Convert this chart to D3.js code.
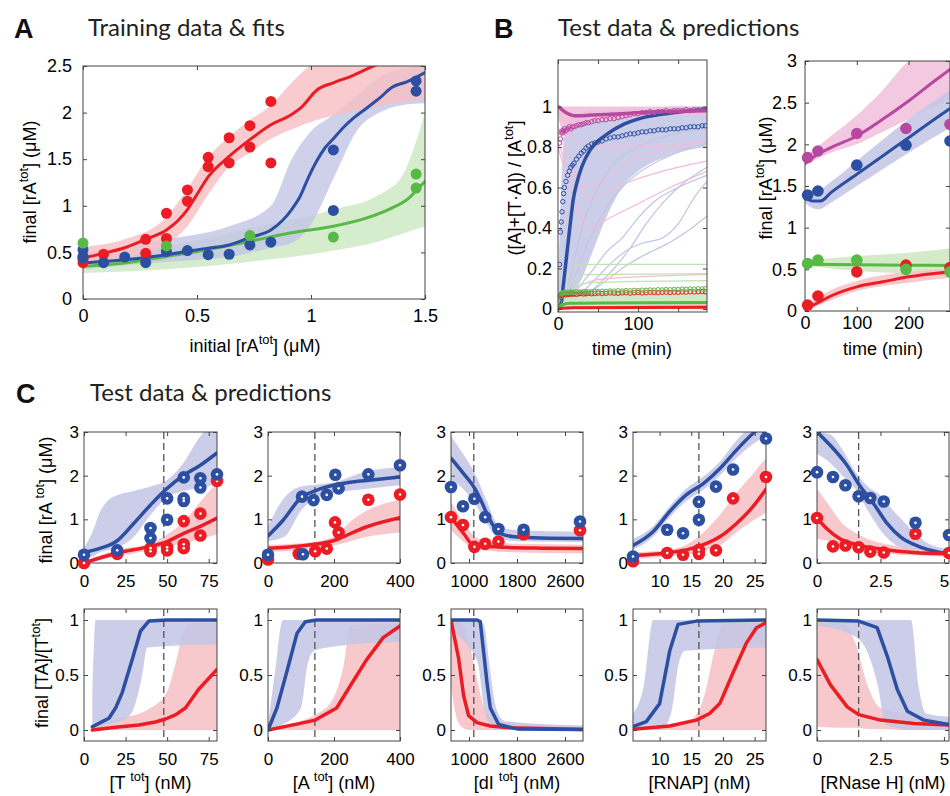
<!DOCTYPE html>
<html><head><meta charset="utf-8">
<script src="https://cdn.jsdelivr.net/npm/d3@7"></script>
<style>body{margin:0;background:#fff}</style>
</head><body><svg id="c" width="950" height="796"></svg>
<script>
// ---------------- DATA ----------------
// Panel A
const aPtsRed = [[0,0.39],[0,0.43],[0.09,0.48],[0.275,0.64],[0.275,0.49],[0.366,0.92],[0.366,0.65],[0.458,1.17],[0.458,1.05],[0.549,1.52],[0.549,1.42],[0.641,1.73],[0.641,1.46],[0.732,1.86],[0.732,1.63],[0.824,2.12],[0.824,1.46]];
const aPtsBlue = [[0,0.53],[0,0.46],[0,0.44],[0.09,0.39],[0.183,0.45],[0.275,0.39],[0.366,0.51],[0.458,0.52],[0.549,0.475],[0.641,0.48],[0.732,0.58],[0.824,0.61],[1.098,1.6],[1.098,0.95],[1.461,2.34],[1.461,2.23]];
const aPtsGreen = [[0,0.6],[0.366,0.57],[0.732,0.68],[1.098,0.665],[1.461,1.34],[1.461,1.19]];
const aFitRed = [[0,0.44],[0.091,0.49],[0.183,0.55],[0.274,0.64],[0.366,0.74],[0.458,0.96],[0.512,1.17],[0.549,1.31],[0.641,1.53],[0.732,1.71],[0.824,1.87],[0.915,1.98],[0.959,2.06],[1.025,2.24],[1.098,2.32],[1.186,2.40],[1.274,2.5],[1.35,2.57]];
const aFitBlue = [[0,0.386],[0.183,0.42],[0.366,0.475],[0.549,0.546],[0.641,0.58],[0.732,0.66],[0.824,0.74],[0.878,0.85],[0.915,0.96],[0.952,1.10],[0.988,1.30],[1.025,1.48],[1.061,1.62],[1.098,1.72],[1.142,1.84],[1.186,1.94],[1.245,2.05],[1.303,2.16],[1.354,2.27],[1.42,2.33],[1.5,2.43]];
const aFitGreen = [[0,0.35],[0.183,0.386],[0.366,0.457],[0.549,0.53],[0.732,0.62],[0.915,0.71],[1.098,0.78],[1.245,0.87],[1.354,0.975],[1.428,1.08],[1.479,1.21],[1.5,1.26]];
const aBandRed = [[0,0.38,0.56],[0.183,0.44,0.64],[0.366,0.58,0.88],[0.458,0.78,1.18],[0.549,1.12,1.52],[0.641,1.42,1.74],[0.732,1.57,1.92],[0.824,1.72,2.08],[0.915,1.82,2.32],[1.025,1.92,2.55],[1.2,2.02,2.65],[1.5,2.15,2.65]];
const aBandBlue = [[0,0.32,0.5],[0.366,0.4,0.64],[0.641,0.45,0.78],[0.824,0.55,1.0],[0.915,0.6,1.5],[1.0,0.8,1.8],[1.1,1.3,1.98],[1.2,1.8,2.18],[1.3,2.0,2.38],[1.4,2.08,2.47],[1.5,2.1,2.52]];
const aBandGreen = [[0,0.28,0.42],[0.366,0.32,0.56],[0.732,0.4,0.76],[1.1,0.52,0.96],[1.3,0.62,1.12],[1.4,0.7,1.32],[1.5,0.78,2.0]];

// Panel B left (time courses)
const bTimes = [2,3,4,5,6,7,8,10,12,14,16,18,20,23,26,29,32,35,38,42,46,50,55,60,65,70,75,80,85,90,95,100,105,110,115,120,125,130,135,140,145,150,155,160,165,170,175,180,184];
const bDataBlue = [0.22,0.38,0.43,0.48,0.53,0.57,0.6,0.63,0.66,0.68,0.7,0.71,0.72,0.74,0.755,0.77,0.78,0.795,0.805,0.815,0.82,0.825,0.83,0.84,0.845,0.85,0.85,0.855,0.86,0.865,0.865,0.87,0.875,0.875,0.88,0.88,0.885,0.885,0.885,0.89,0.89,0.89,0.895,0.895,0.9,0.9,0.9,0.905,0.905];
const bDataMag = [0.82,0.84,0.87,0.88,0.87,0.88,0.89,0.88,0.89,0.9,0.89,0.9,0.9,0.905,0.91,0.91,0.915,0.92,0.92,0.925,0.93,0.93,0.935,0.935,0.94,0.94,0.945,0.95,0.955,0.96,0.965,0.965,0.97,0.97,0.975,0.97,0.975,0.975,0.98,0.975,0.98,0.98,0.98,0.985,0.98,0.985,0.985,0.985,0.985];
const bDataRed = [0.06,0.065,0.07,0.068,0.072,0.07,0.074,0.07,0.073,0.072,0.075,0.073,0.074,0.072,0.075,0.076,0.074,0.075,0.077,0.075,0.076,0.078,0.076,0.077,0.079,0.078,0.077,0.079,0.08,0.078,0.08,0.081,0.079,0.08,0.082,0.081,0.08,0.082,0.083,0.081,0.083,0.082,0.084,0.083,0.085,0.084,0.085,0.086,0.085];
const bDataGreen = [0.03,0.06,0.075,0.08,0.078,0.08,0.082,0.08,0.083,0.081,0.084,0.082,0.083,0.085,0.084,0.083,0.086,0.085,0.084,0.086,0.087,0.086,0.088,0.087,0.089,0.088,0.09,0.089,0.091,0.09,0.092,0.091,0.093,0.092,0.094,0.093,0.095,0.094,0.096,0.095,0.097,0.096,0.098,0.097,0.099,0.098,0.1,0.099,0.1];
const bFitMag = [[0,1.0],[5,0.985],[10,0.97],[15,0.96],[20,0.955],[30,0.955],[50,0.96],[80,0.965],[100,0.97],[140,0.975],[186,0.98]];
const bFitBlue = [[0,0],[4,0.03],[7,0.13],[11,0.27],[15,0.41],[19,0.54],[24,0.63],[30,0.705],[40,0.785],[50,0.83],[62,0.866],[83,0.914],[104,0.943],[146,0.97],[186,0.985]];
const bFitRed = [[0,0],[5,0.004],[20,0.006],[186,0.008]];
const bFitGreen = [[0,0],[5,0.02],[15,0.028],[50,0.03],[186,0.032]];
const bBandBlue = [[0,0,0.1],[5,0.01,0.7],[10,0.03,0.9],[20,0.08,0.96],[30,0.15,0.97],[40,0.25,0.98],[60,0.45,0.98],[80,0.6,0.99],[100,0.68,0.99],[140,0.76,1.0],[186,0.8,1.0]];
const bBandMag = [[0,0.95,1.0],[10,0.85,1.0],[20,0.9,1.0],[50,0.93,1.0],[186,0.96,1.0]];
const bBandGreen = [[0,0,0.05],[10,0.01,0.07],[186,0.01,0.08]];
const bBandRed = [[0,0,0.01],[186,0,0.025]];
const bThinBlue = [
  [[8,0],[20,0.02],[40,0.08],[60,0.14],[80,0.2],[100,0.25],[120,0.29],[140,0.33],[160,0.38],[186,0.46]],
  [[10,0],[30,0.08],[50,0.16],[70,0.24],[90,0.3],[110,0.33],[130,0.35],[150,0.42],[170,0.55],[186,0.63]],
  [[10,0],[25,0.1],[45,0.2],[60,0.28],[80,0.35],[100,0.45],[120,0.53],[150,0.6],[186,0.66]],
  [[5,0],[20,0.15],[40,0.35],[60,0.5],[80,0.6],[100,0.67],[130,0.74],[160,0.79],[186,0.82]],
  [[5,0],[15,0.15],[30,0.4],[50,0.6],[70,0.72],[100,0.8],[140,0.86],[186,0.89]],
  [[12,0],[30,0.05],[50,0.12],[70,0.2],[90,0.3],[110,0.42],[130,0.52],[150,0.6],[186,0.7]]
];
const bThinMag = [
  [[0,0.82],[10,0.72],[25,0.6],[40,0.55],[60,0.58],[90,0.63],[130,0.68],[186,0.73]],
  [[0,0.8],[15,0.6],[30,0.45],[42,0.4],[60,0.44],[100,0.52],[140,0.6],[186,0.68]],
  [[0,1.0],[10,0.9],[20,0.85],[50,0.8],[100,0.8],[186,0.83]],
  [[0,0.9],[15,0.75],[30,0.6],[50,0.62],[100,0.75],[186,0.81]],
  [[0,0.02],[30,0.12],[60,0.15],[186,0.17]]
];
const bThinGreen = [
  [[0,0.03],[10,0.15],[25,0.22],[186,0.22]],
  [[0,0.03],[15,0.12],[30,0.17],[186,0.175]],
  [[0,0.02],[20,0.1],[40,0.13],[186,0.14]]
];

// Panel B right
const brTimes = [5,25,100,195,280];
const brPtsMag = [1.84,1.92,2.13,2.19,2.24];
const brPtsBlue = [1.39,1.44,1.75,1.99,2.04];
const brPtsGreen = [0.57,0.61,0.61,0.5,0.47];
const brPtsRed = [0.07,0.18,0.47,0.55,0.52];
const brFitMag = [[0,1.77],[25,1.88],[50,1.96],[100,2.1],[150,2.3],[200,2.52],[250,2.76],[280,2.9]];
const brFitBlue = [[0,1.36],[15,1.32],[30,1.32],[50,1.42],[100,1.64],[150,1.86],[200,2.08],[250,2.3],[280,2.43]];
const brFitGreen = [[0,0.56],[100,0.555],[200,0.55],[280,0.545]];
const brFitRed = [[0,0.02],[25,0.1],[50,0.18],[100,0.29],[150,0.35],[200,0.41],[250,0.45],[280,0.47]];
const brBandMag = [[0,1.75,1.85],[50,1.9,2.1],[100,2.0,2.35],[150,2.15,2.65],[200,2.3,3.0],[280,2.55,3.2]];
const brBandBlue = [[0,1.3,1.45],[25,1.22,1.45],[50,1.3,1.55],[100,1.5,1.8],[200,1.9,2.3],[280,2.2,2.65]];
const brBandGreen = [[0,0.55,0.6],[100,0.48,0.66],[200,0.45,0.7],[280,0.43,0.75]];
const brBandRed = [[0,0,0.06],[50,0.13,0.25],[100,0.24,0.36],[200,0.34,0.47],[280,0.4,0.5]];

// Panel C, top row: final [rA tot]
const c1PtsBlue = [[0,0.19],[20,0.29],[40,0.8],[40,0.57],[50,1.48],[50,0.99],[60,1.96],[60,1.48],[60,1.42],[70,1.94],[70,1.73],[80,2.03]];
const c1PtsRed = [[0,0.0],[20,0.21],[40,0.34],[40,0.27],[50,0.36],[50,0.29],[60,0.96],[60,0.43],[60,0.34],[70,1.13],[70,0.63],[80,1.88]];
const c1FitBlue = [[0,0.24],[10,0.34],[20,0.51],[30,0.91],[40,1.33],[50,1.71],[60,2.01],[70,2.24],[80,2.52]];
const c1FitRed = [[0,0.0],[20,0.23],[40,0.38],[50,0.49],[60,0.68],[70,0.84],[80,1.03]];
const c1BandBlue = [[0,0.1,0.35],[5,0.15,0.7],[10,0.25,1.2],[15,0.3,1.45],[20,0.35,1.55],[30,0.6,1.65],[40,1.1,1.75],[50,1.5,1.9],[60,1.65,2.3],[70,1.72,2.9],[75,1.76,3.1],[80,1.8,3.1]];
const c1BandRed = [[0,0,0.05],[20,0.15,0.3],[40,0.3,0.45],[50,0.38,0.65],[60,0.45,0.95],[70,0.55,1.4],[80,0.65,1.85]];

const c2PtsBlue = [[0,0.19],[103,1.52],[106,0.2],[138,1.44],[178,1.56],[204,2.02],[214,1.71],[304,2.03],[400,2.24]];
const c2PtsRed = [[0,0.08],[93,0.21],[143,0.27],[178,0.33],[203,0.93],[214,0.7],[304,1.45],[400,1.57]];
const c2FitBlue = [[0,0.62],[47,0.99],[98,1.48],[148,1.67],[198,1.78],[249,1.85],[299,1.89],[400,1.97]];
const c2FitRed = [[0,0.34],[98,0.39],[198,0.51],[249,0.67],[299,0.83],[400,1.04]];
const c2BandBlue = [[0,0.5,0.85],[50,0.6,1.5],[100,1.2,1.75],[150,1.5,1.8],[200,1.6,1.85],[300,1.7,2.1],[400,1.78,2.2]];
const c2BandRed = [[0,0.25,0.42],[100,0.3,0.45],[200,0.4,0.6],[250,0.5,0.95],[300,0.6,1.2],[400,0.7,1.45]];

const c3PtsBlue = [[700,1.74],[900,1.3],[1090,1.47],[1270,1.05],[1490,0.78],[1910,0.76],[2850,0.95]];
const c3PtsRed = [[700,1.05],[900,0.87],[1090,0.37],[1270,0.44],[1490,0.49],[1910,0.66],[2850,0.75]];
const c3FitBlue = [[700,2.4],[913,2.04],[1100,1.7],[1200,1.43],[1311,1.09],[1422,0.82],[1533,0.67],[1756,0.6],[2200,0.57],[2900,0.56]];
const c3FitRed = [[700,1.05],[913,0.67],[1100,0.38],[1311,0.38],[1600,0.36],[2200,0.34],[2900,0.33]];
const c3BandBlue = [[700,1.9,2.9],[900,1.7,2.5],[1100,1.35,2.05],[1300,0.9,1.4],[1500,0.55,0.85],[1800,0.5,0.75],[2900,0.48,0.72]];
const c3BandRed = [[700,0.75,1.4],[900,0.5,0.95],[1100,0.3,0.6],[1300,0.28,0.5],[1600,0.25,0.45],[2900,0.22,0.42]];

const c4PtsBlue = [[5.8,0.15],[11.2,0.76],[13.7,0.68],[16.2,1.4],[16.2,0.99],[18.9,1.75],[21.6,2.14],[26.8,2.85]];
const c4PtsRed = [[5.8,0.04],[11.2,0.23],[13.7,0.19],[16.2,0.3],[16.2,0.21],[18.9,0.29],[21.6,1.48],[26.8,1.97]];
const c4FitBlue = [[5.8,0.4],[9,0.72],[11.6,1.18],[14.2,1.56],[16.9,1.82],[19.5,2.16],[22.1,2.58],[25,3.0],[26.8,3.2]];
const c4FitRed = [[5.8,0.17],[11.1,0.23],[14.2,0.3],[16.9,0.42],[19.5,0.6],[22.1,0.9],[24.5,1.25],[26.8,1.69]];
const c4BandBlue = [[5.8,0.3,0.55],[9,0.6,0.85],[11.6,1.05,1.3],[14.2,1.42,1.7],[16.9,1.68,1.98],[19.5,2.0,2.32],[22.1,2.4,2.8],[25,2.75,3.2],[26.8,2.9,3.3]];
const c4BandRed = [[5.8,0.08,0.25],[11,0.15,0.3],[14.2,0.2,0.42],[16.9,0.28,0.7],[19.5,0.4,1.1],[22.1,0.7,1.6],[24.5,0.95,2.0],[26.8,1.15,2.4]];

const c5PtsBlue = [[0,2.08],[0.63,1.97],[1.12,1.78],[1.64,1.53],[2.1,1.49],[2.63,1.41],[3.88,0.92],[5.2,0.64]];
const c5PtsRed = [[0,1.03],[0.63,0.38],[1.12,0.4],[1.64,0.36],[2.1,0.26],[2.63,0.24],[3.88,0.67],[5.2,0.23]];
const c5FitBlue = [[0,3.0],[0.53,2.69],[1.19,2.23],[1.64,1.81],[2.24,1.35],[2.77,0.9],[3.3,0.59],[4.1,0.36],[5.2,0.21]];
const c5FitRed = [[0,1.03],[0.4,0.78],[0.92,0.55],[1.64,0.41],[2.5,0.32],[3.8,0.24],[5.2,0.21]];
const c5BandBlue = [[0,2.5,3.0],[0.5,2.3,2.95],[1,2.0,2.6],[1.5,1.7,2.1],[2,1.2,1.75],[2.5,0.75,1.55],[3,0.45,1.2],[3.5,0.3,0.9],[4,0.2,0.6],[5.2,0.15,0.3]];
const c5BandRed = [[0,0.55,1.7],[0.5,0.5,1.3],[1,0.42,0.9],[1.5,0.35,0.7],[2,0.28,0.55],[3,0.2,0.4],[5.2,0.15,0.25]];

// Panel C, bottom row: final [TA]/[T tot]
const t1FitBlue = [[5,0.03],[11,0.076],[15,0.107],[19,0.2],[23,0.34],[29,0.64],[34,0.9],[39,0.99],[50,1.0],[80,1.0]];
const t1FitRed = [[5,0.0],[19,0.024],[33,0.046],[43,0.073],[49,0.1],[55,0.137],[61,0.2],[69,0.37],[80,0.55]];
const t1BandBlue = [[5,0,0.3],[7,0.01,1.0],[12,0.04,1.0],[20,0.07,1.0],[25,0.1,1.0],[30,0.2,1.0],[35,0.5,1.0],[38,0.75,1.0],[80,0.78,1.0]];
const t1BandRed = [[5,0,0.05],[20,0,0.1],[40,0,0.2],[50,0,0.35],[55,0,0.6],[60,0,0.9],[65,0,0.97],[80,0,0.97]];
const t2FitBlue = [[0,0],[27,0.2],[57,0.53],[88,0.88],[113,0.985],[148,1.0],[400,1.0]];
const t2FitRed = [[0,0],[98,0.06],[143,0.09],[208,0.2],[249,0.4],[299,0.64],[349,0.84],[400,0.945]];
const t2BandBlue = [[0,0,0.05],[20,0.02,0.5],[45,0.05,1.0],[100,0.2,1.0],[120,0.6,1.0],[140,0.72,1.0],[200,0.76,1.0],[400,0.8,1.0]];
const t2BandRed = [[0,0,0.02],[150,0,0.15],[200,0,0.3],[230,0,0.6],[250,0,0.95],[400,0,0.97]];
const t3FitBlue = [[700,1.0],[1133,1.0],[1188,0.985],[1300,0.43],[1355,0.2],[1494,0.05],[1800,0.01],[2900,0.005]];
const t3FitRed = [[700,1.0],[827,0.65],[911,0.31],[994,0.13],[1133,0.067],[1355,0.037],[1689,0.02],[2900,0.005]];
const t3BandBlue = [[700,0.9,1.0],[1000,0.75,1.0],[1150,0.6,1.0],[1250,0.2,0.95],[1350,0.05,0.55],[1450,0,0.2],[1600,0,0.08],[2900,0,0.04]];
const t3BandRed = [[700,0.4,1.0],[800,0.1,1.0],[900,0.02,0.95],[1000,0,0.8],[1100,0,0.55],[1200,0,0.3],[1300,0,0.15],[1500,0,0.08],[2900,0,0.03]];
const t4FitBlue = [[5.8,0.03],[7.9,0.076],[10,0.24],[11.6,0.72],[12.9,0.96],[15.8,0.99],[26.8,1.0]];
const t4FitRed = [[5.8,0.006],[11.6,0.037],[15.8,0.09],[17.9,0.15],[19.5,0.24],[21.6,0.52],[23.7,0.79],[25.3,0.93],[26.8,0.976]];
const t4BandBlue = [[5.8,0,0.15],[7.5,0.01,0.4],[9,0.02,1.0],[11,0.05,1.0],[12,0.2,1.0],[13,0.6,1.0],[14,0.72,1.0],[26.8,0.75,1.0]];
const t4BandRed = [[5.8,0,0.02],[15,0,0.1],[17,0,0.3],[19,0,0.8],[20,0,0.97],[26.8,0,0.97]];
const t5FitBlue = [[0,1.0],[1.64,0.99],[2.37,0.93],[2.77,0.67],[3.16,0.37],[3.56,0.17],[4.21,0.09],[5.2,0.05]];
const t5FitRed = [[0,0.64],[0.53,0.41],[1.19,0.21],[1.64,0.14],[2.5,0.09],[3.82,0.06],[5.2,0.045]];
const t5BandBlue = [[0,0.95,1.0],[1.5,0.85,1.0],[2.0,0.7,1.0],[2.4,0.4,1.0],[2.7,0.05,1.0],[3.7,0,1.0],[4.0,0,0.4],[4.3,0,0.15],[5.2,0,0.12]];
const t5BandRed = [[0,0.03,0.98],[1.0,0.02,0.97],[1.5,0.02,0.8],[2.0,0.01,0.4],[2.5,0.01,0.2],[3.5,0,0.15],[5.2,0,0.07]];

// Axis / tick definitions for panel C
const cDomains = [[0,80],[0,400],[700,2900],[5.8,26.8],[0,5.2]];
const cTicks = [[0,25,50,75],[0,200,400],[1000,1800,2600],[10,15,20,25],[0,2.5,5]];
const cDashed = [48,142,1080,16.2,1.64];

// ---------------- DRAWING ----------------
const FONT = '"Liberation Sans", Arial, Helvetica, sans-serif';
const TFONT = 'Lato, "Open Sans", sans-serif';
const COL = {red:"#ec1c24", blue:"#2c4fa2", green:"#58b947", mag:"#b8479f"};
const BAND = {red:"#f6bfc3", blue:"#c3c6e5", green:"#cbe7c0", mag:"#f0bfdb"};
const THIN = {red:"#f5b9bd", blue:"#c0c4e6", green:"#bfe2b3", mag:"#f2bcd6"};

const svg = d3.select("#c");
const defs = svg.append("defs");
let clipN = 0;

function makePlot(o) {
  const x = d3.scaleLinear().domain(o.xd).range([o.l, o.r]);
  const y = d3.scaleLinear().domain(o.yd).range([o.b, o.t]);
  const id = "clip" + (clipN++);
  defs.append("clipPath").attr("id", id).append("rect")
    .attr("x", o.l).attr("y", o.t).attr("width", o.r - o.l).attr("height", o.b - o.t);
  const g = svg.append("g").attr("clip-path", `url(#${id})`);
  return {x, y, g, o};
}
function frame(p) {
  const {x, y, o} = p; const fs = o.fs || 18;
  const fx = o.xf || (d => String(d)), fy = o.yf || (d => String(d));
  const axs = [];
  axs.push(svg.append("g").attr("transform", `translate(0,${o.b})`)
    .call(d3.axisBottom(x).tickValues(o.xt).tickFormat(fx).tickSizeInner(-4).tickSizeOuter(0).tickPadding(o.xp)));
  axs.push(svg.append("g").attr("transform", `translate(0,${o.t})`)
    .call(d3.axisTop(x).tickValues(o.xt).tickFormat("").tickSizeInner(-4).tickSizeOuter(0)));
  axs.push(svg.append("g").attr("transform", `translate(${o.l},0)`)
    .call(d3.axisLeft(y).tickValues(o.yt).tickFormat(fy).tickSizeInner(-4).tickSizeOuter(0).tickPadding(o.yp)));
  axs.push(svg.append("g").attr("transform", `translate(${o.r},0)`)
    .call(d3.axisRight(y).tickValues(o.yt).tickFormat("").tickSizeInner(-4).tickSizeOuter(0)));
  axs.forEach(a => {
    a.select(".domain").remove();
    a.attr("font-family", null).attr("font-size", null);
    a.selectAll("line").attr("stroke", "#444");
    a.selectAll("text").attr("font-size", fs).attr("font-family", FONT).attr("fill", "#000");
  });
  svg.append("rect").attr("x", o.l).attr("y", o.t).attr("width", o.r - o.l).attr("height", o.b - o.t)
    .attr("fill", "none").attr("stroke", "#444").attr("stroke-width", 1);
}
function band(p, data, color, op) {
  p.g.append("path").datum(data)
    .attr("d", d3.area().x(d => p.x(d[0])).y0(d => p.y(d[1])).y1(d => p.y(d[2])).curve(d3.curveMonotoneX))
    .attr("fill", color).attr("fill-opacity", op == null ? 0.85 : op);
}
function line(p, data, color, w, curve) {
  p.g.append("path").datum(data)
    .attr("d", d3.line().x(d => p.x(d[0])).y(d => p.y(d[1])).curve(curve || d3.curveMonotoneX))
    .attr("fill", "none").attr("stroke", color).attr("stroke-width", w)
    .attr("stroke-linejoin", "round").attr("stroke-linecap", "round");
}
function dots(p, data, color, r) {
  svg.append("g").selectAll("circle").data(data).join("circle")
    .attr("cx", d => p.x(d[0])).attr("cy", d => p.y(d[1])).attr("r", r).attr("fill", color);
}
function ringDots(p, data, color) {
  const g = svg.append("g");
  g.selectAll("circle.o").data(data).join("circle").attr("class", "o")
    .attr("cx", d => p.x(d[0])).attr("cy", d => p.y(d[1])).attr("r", 6.3).attr("fill", color);
  g.selectAll("circle.i").data(data).join("circle").attr("class", "i")
    .attr("cx", d => p.x(d[0])).attr("cy", d => p.y(d[1])).attr("r", 1.3).attr("fill", "#fff");
}
function rich(x, y, parts, fs, rot, anchor) {
  const t = svg.append("text").attr("font-family", FONT).attr("font-size", fs)
    .attr("text-anchor", anchor || "middle").attr("fill", "#000")
    .attr("transform", rot ? `translate(${x},${y}) rotate(-90)` : `translate(${x},${y})`);
  let shift = 0;
  parts.forEach(([s, sup]) => {
    const ts = t.append("tspan").text(s);
    if (sup) { ts.attr("font-size", fs * 0.72).attr("dy", -fs * 0.42); shift = fs * 0.42; }
    else if (shift) { ts.attr("dy", shift); shift = 0; }
  });
  return t;
}
function title(letter, lx, txt, tx, y) {
  svg.append("text").attr("x", lx).attr("y", y + 2).attr("font-family", FONT).attr("font-weight", "bold")
    .attr("font-size", 27).attr("fill", "#111").text(letter);
  svg.append("text").attr("x", tx).attr("y", y).attr("font-family", TFONT)
    .attr("font-size", 24).attr("fill", "#222").text(txt);
}

// ----- Panel A -----
title("A", 14, "Training data & fits", 88, 36);
{
  const p = makePlot({l:83, r:425, t:66, b:299, xd:[0,1.5], yd:[0,2.5], xt:[0,0.5,1,1.5], yt:[0,0.5,1,1.5,2,2.5], xp:10, yp:11});
  band(p, aBandGreen, BAND.green, 0.8);
  band(p, aBandBlue, BAND.blue, 0.8);
  band(p, aBandRed, BAND.red, 0.8);
  line(p, aFitGreen, COL.green, 3);
  line(p, aFitBlue, COL.blue, 3);
  line(p, aFitRed, COL.red, 3);
  frame(p);
  dots(p, aPtsRed, COL.red, 5.5);
  dots(p, aPtsBlue, COL.blue, 5.5);
  dots(p, aPtsGreen, COL.green, 5.5);
  rich(255, 352, [["initial [rA",0],["tot",1],["] (μM)",0]], 18);
  rich(36, 182, [["final [rA",0],["tot",1],["] (μM)",0]], 18, true);
}

// ----- Panel B -----
title("B", 494, "Test data & predictions", 558, 36);
{
  const p = makePlot({l:558, r:707, t:60, b:312, xd:[0,186], yd:[-0.015,1.23], xt:[0,50,100,150],
    xf: d => (d % 100 === 0 ? String(d) : ""), yt:[0,0.2,0.4,0.6,0.8,1], xp:5, yp:6});
  bThinBlue.forEach(d => line(p, d, THIN.blue, 1.2));
  band(p, bBandBlue, BAND.blue, 0.85);
  band(p, bBandMag, BAND.mag, 0.9);
  band(p, bBandGreen, BAND.green, 0.9);
  band(p, bBandRed, BAND.red, 0.9);
  bThinMag.forEach(d => line(p, d, THIN.mag, 1.2));
  bThinGreen.forEach(d => line(p, d, THIN.green, 1.2));
  line(p, bFitBlue, COL.blue, 3.5);
  line(p, bFitMag, COL.mag, 3.5);
  line(p, bFitGreen, COL.green, 3);
  line(p, bFitRed, COL.red, 3);
  const series = [[bDataRed, COL.red], [bDataGreen, COL.green], [bDataMag, COL.mag], [bDataBlue, COL.blue]];
  series.forEach(([vals, c]) => {
    const pts = d3.zip(bTimes, vals);
    p.g.append("g").selectAll("circle").data(pts).join("circle")
      .attr("cx", d => p.x(d[0])).attr("cy", d => p.y(d[1])).attr("r", 2.2)
      .attr("fill", "none").attr("stroke", c).attr("stroke-width", 1);
  });
  frame(p);
  rich(632, 355, [["time (min)",0]], 18);
  rich(521, 188, [["([A]+[T·A]) / [A",0],["tot",1],["]",0]], 18, true);
}
{
  const p = makePlot({l:805, r:950, t:61, b:311, xd:[0,280], yd:[0,3], xt:[0,100,200], yt:[0,0.5,1,1.5,2,2.5,3], xp:5, yp:8});
  band(p, brBandMag, BAND.mag, 0.85);
  band(p, brBandBlue, BAND.blue, 0.85);
  band(p, brBandGreen, BAND.green, 0.85);
  band(p, brBandRed, BAND.red, 0.85);
  line(p, brFitMag, COL.mag, 3);
  line(p, brFitBlue, COL.blue, 3);
  line(p, brFitGreen, COL.green, 3);
  line(p, brFitRed, COL.red, 3);
  frame(p);
  dots(p, d3.zip(brTimes, brPtsRed), COL.red, 5.8);
  dots(p, d3.zip(brTimes, brPtsGreen), COL.green, 5.8);
  dots(p, d3.zip(brTimes, brPtsBlue), COL.blue, 5.8);
  dots(p, d3.zip(brTimes, brPtsMag), COL.mag, 5.8);
  rich(883, 355, [["time (min)",0]], 18);
  rich(772, 178, [["final [rA",0],["tot",1],["] (μM)",0]], 18, true);
}

// ----- Panel C -----
title("C", 16, "Test data & predictions", 90, 401);
const cLeft = [84, 268, 451, 633, 817];
const cRight = [217, 400, 583, 766, 949];
const topSets = [
  [c1BandBlue, c1BandRed, c1FitBlue, c1FitRed, c1PtsBlue, c1PtsRed],
  [c2BandBlue, c2BandRed, c2FitBlue, c2FitRed, c2PtsBlue, c2PtsRed],
  [c3BandBlue, c3BandRed, c3FitBlue, c3FitRed, c3PtsBlue, c3PtsRed],
  [c4BandBlue, c4BandRed, c4FitBlue, c4FitRed, c4PtsBlue, c4PtsRed],
  [c5BandBlue, c5BandRed, c5FitBlue, c5FitRed, c5PtsBlue, c5PtsRed]
];
const botSets = [
  [t1BandBlue, t1BandRed, t1FitBlue, t1FitRed],
  [t2BandBlue, t2BandRed, t2FitBlue, t2FitRed],
  [t3BandBlue, t3BandRed, t3FitBlue, t3FitRed],
  [t4BandBlue, t4BandRed, t4FitBlue, t4FitRed],
  [t5BandBlue, t5BandRed, t5FitBlue, t5FitRed]
];
const cXLabels = [
  [["[T ",0],["tot",1],["] (nM)",0]],
  [["[A ",0],["tot",1],["] (nM)",0]],
  [["[dI ",0],["tot",1],["] (nM)",0]],
  [["[RNAP] (nM)",0]],
  [["[RNase H] (nM)",0]]
];
for (let i = 0; i < 5; i++) {
  // top
  const pt = makePlot({l:cLeft[i], r:cRight[i], t:432, b:563, xd:cDomains[i], yd:[0,3], xt:cTicks[i], yt:[0,1,2,3], xp:12, yp:5, fs:17});
  const [bb, br, fb, fr, pb, pr] = topSets[i];
  band(pt, bb, BAND.blue, 0.85);
  band(pt, br, BAND.red, 0.85);
  pt.g.append("line").attr("x1", pt.x(cDashed[i])).attr("x2", pt.x(cDashed[i])).attr("y1", 432).attr("y2", 563)
    .attr("stroke", "#555").attr("stroke-width", 1.3).attr("stroke-dasharray", "7,4");
  line(pt, fb, COL.blue, 3.5);
  line(pt, fr, COL.red, 3.5);
  frame(pt);
  ringDots(pt, pr, COL.red);
  ringDots(pt, pb, COL.blue);
  // bottom
  const pb2 = makePlot({l:cLeft[i], r:cRight[i], t:609, b:741, xd:cDomains[i], yd:[-0.1,1.1], xt:cTicks[i], yt:[0,0.5,1], xp:12, yp:5, fs:17});
  const [tbb, tbr, tfb, tfr] = botSets[i];
  band(pb2, tbr, BAND.red, 0.85);
  band(pb2, tbb, BAND.blue, 0.85);
  pb2.g.append("line").attr("x1", pb2.x(cDashed[i])).attr("x2", pb2.x(cDashed[i])).attr("y1", 609).attr("y2", 741)
    .attr("stroke", "#555").attr("stroke-width", 1.3).attr("stroke-dasharray", "7,4");
  line(pb2, tfr, COL.red, 3.5, d3.curveLinear);
  line(pb2, tfb, COL.blue, 3.5, d3.curveLinear);
  frame(pb2);
  rich((cLeft[i] + cRight[i]) / 2, 789, cXLabels[i], 18);
}
rich(52, 500, [["final [rA ",0],["tot",1],["] (μM)",0]], 18, true);
rich(48, 673, [["final [TA]/[T",0],["tot",1],["]",0]], 18, true);
</script></body></html>
